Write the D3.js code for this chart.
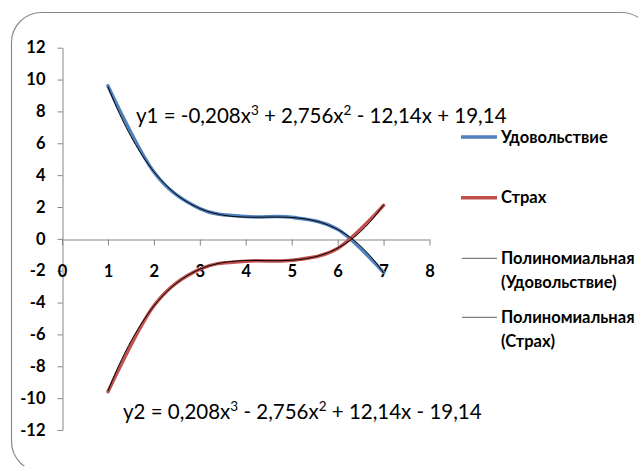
<!DOCTYPE html>
<html>
<head>
<meta charset="utf-8">
<script src="https://cdn.jsdelivr.net/npm/d3@7"></script>
<style>
  body { margin: 0; background: #fff; }
  svg { display: block; font-family: Lato, "Open Sans", sans-serif; }
</style>
</head>
<body>
<svg width="638" height="466"></svg>
<script>
// data
var xs = [1, 2, 3, 4, 5, 6, 7];
var joy = [9.6, 4.2, 1.9, 1.4, 1.35, 0.6, -2.1];
var fear = [-9.6, -4.2, -1.9, -1.4, -1.35, -0.6, 2.1];
// trendline coefficients (x^3, x^2, x, 1) as printed on the chart
var joyCoef = [-0.208, 2.756, -12.14, 19.14];
var fearCoef = [0.208, -2.756, 12.14, -19.14];
var yTicks = [-12, -10, -8, -6, -4, -2, 0, 2, 4, 6, 8, 10, 12];
var xTicks = [0, 1, 2, 3, 4, 5, 6, 7, 8];
var seriesNames = ["Удовольствие", "Страх"];
var trendNames = [["Полиномиальная", "(Удовольствие)"], ["Полиномиальная", "(Страх)"]];

var svg = d3.select("svg");

// chart area frame
svg.append("rect")
	.attr("x", 11.5).attr("y", 12.5)
	.attr("width", 640).attr("height", 459)
	.attr("rx", 30).attr("ry", 30)
	.style("fill", "#fff")
	.style("stroke", "#8a8a8a")
	.style("stroke-width", 1.2);

var x = d3.scaleLinear().domain([0, 8]).range([62, 429.5]);
var y = d3.scaleLinear().domain([-12, 12]).range([430, 47.7]);

var yAxis = svg.append("g")
	.attr("transform", "translate(" + (x(0) + 0.5) + ",0)")
	.call(d3.axisLeft(y).tickValues(yTicks).tickSize(5).tickSizeOuter(0).tickPadding(12)
		.tickFormat(function(d) { return String(d); }));

var xAxis = svg.append("g")
	.attr("transform", "translate(0," + (Math.round(y(0)) + 0.5) + ")")
	.call(d3.axisBottom(x).tickValues(xTicks).tickSize(6).tickSizeOuter(0).tickPadding(20)
		.tickFormat(function(d) { return String(d); }));

[xAxis, yAxis].forEach(function(a) {
	a.select(".domain").style("stroke", "#868686");
	a.selectAll(".tick line").style("stroke", "#868686");
	a.selectAll(".tick text")
		.style("font-family", "Lato, 'Open Sans', sans-serif")
		.style("font-size", "16.5px")
		.style("font-weight", "bold")
		.style("fill", "#000");
});

var line = d3.line()
	.x(function(d) { return x(d[0]); })
	.y(function(d) { return y(d[1]); })
	.curve(d3.curveCatmullRom.alpha(0));

var colors = ["#4f81bd", "#c0504d"];
[joy, fear].forEach(function(vals, i) {
	svg.append("path")
		.datum(xs.map(function(v, j) { return [v, vals[j]]; }))
		.attr("d", line)
		.style("fill", "none")
		.style("stroke", colors[i])
		.style("stroke-width", 3.5)
		.style("stroke-linecap", "round");
});

// polynomial trendlines
function poly(c, t) { return ((c[0] * t + c[1]) * t + c[2]) * t + c[3]; }
var trendLine = d3.line()
	.x(function(d) { return x(d[0]); })
	.y(function(d) { return y(d[1]); });
[joyCoef, fearCoef].forEach(function(c) {
	var pts = d3.range(1, 7.001, 0.05).map(function(t) { return [t, poly(c, t)]; });
	svg.append("path")
		.attr("d", trendLine(pts))
		.style("fill", "none")
		.style("stroke", "#000")
		.style("stroke-width", 1);
});

// equations
function equation(xp, yp, parts) {
	var t = svg.append("text")
		.attr("x", xp).attr("y", yp)
		.style("font-size", "20.5px")
		.style("fill", "#000");
	parts.forEach(function(p) {
		if (typeof p === "object") {
			t.append("tspan").attr("dy", -8).style("font-size", "13.5px").text(p.s);
			t.append("tspan").attr("dy", 8).text(" ");
		} else {
			t.append("tspan").text(p);
		}
	});
}
equation(136, 123, ["y1 = -0,208x", {s: "3"}, "+ 2,756x", {s: "2"}, "- 12,14x + 19,14"]);
equation(123, 419, ["y2 = 0,208x", {s: "3"}, "- 2,756x", {s: "2"}, "+ 12,14x - 19,14"]);

// legend
var lg = svg.append("g").style("font-size", "16.5px").style("font-weight", "bold");
var rows = [137, 197.7];
seriesNames.forEach(function(n, i) {
	lg.append("line")
		.attr("x1", 461).attr("x2", 497).attr("y1", rows[i]).attr("y2", rows[i])
		.style("stroke", colors[i]).style("stroke-width", 3.5);
	lg.append("text").attr("x", 501).attr("y", rows[i]).attr("dy", "0.35em").text(n);
});
var trows = [258.3, 317.3];
trendNames.forEach(function(n, i) {
	lg.append("line")
		.attr("x1", 462).attr("x2", 497).attr("y1", trows[i]).attr("y2", trows[i])
		.style("stroke", "#7f7f7f").style("stroke-width", 1.2);
	n.forEach(function(s, k) {
		lg.append("text").attr("x", 501).attr("y", trows[i] + k * 23.5).attr("dy", "0.35em").text(s);
	});
});
</script>
</body>
</html>
